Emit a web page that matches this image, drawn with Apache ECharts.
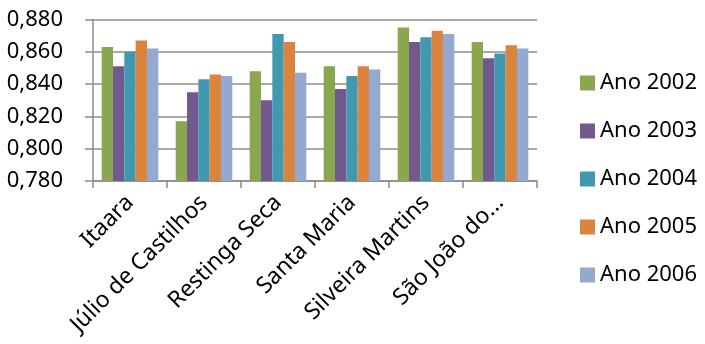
<!DOCTYPE html>
<html><head><meta charset="utf-8">
<script src="https://cdn.jsdelivr.net/npm/echarts@6/dist/echarts.min.js"></script>
<style>html,body{margin:0;padding:0;background:#fff}#c{width:705px;height:344px}</style>
</head><body><div id="c"></div>
<script>
const categories = ["Itaara","Júlio de Castilhos","Restinga Seca","Santa Maria","Silveira Martins","São João do..."];
const seriesNames = ["Ano 2002","Ano 2003","Ano 2004","Ano 2005","Ano 2006"];
const ano2002 = [0.863,0.817,0.848,0.851,0.875,0.866];
const ano2003 = [0.851,0.835,0.830,0.837,0.866,0.856];
const ano2004 = [0.860,0.843,0.871,0.845,0.869,0.859];
const ano2005 = [0.867,0.846,0.866,0.851,0.873,0.864];
const ano2006 = [0.862,0.845,0.847,0.849,0.871,0.862];
const colors = ["#8AA64E","#71588F","#4298AF","#DB843D","#93A9CF"];
const values = [ano2002,ano2003,ano2004,ano2005,ano2006];
const font = "Noto Sans";
const chart = echarts.init(document.getElementById('c'));
chart.setOption({
  animation:false,
  color:colors,
  grid:{left:93,right:168,top:19.5,bottom:163,containLabel:false},
  legend:{orient:'vertical',left:580,top:71,padding:0,itemWidth:15,itemHeight:15,itemGap:24,icon:'rect',
    textStyle:{fontFamily:font,fontSize:22,color:'#000',lineHeight:24},
    data:seriesNames},
  xAxis:{type:'category',data:categories,
    axisLine:{lineStyle:{color:'#8c8c8c',width:1.5}},
    axisTick:{show:true,length:7,alignWithLabel:false,lineStyle:{color:'#8c8c8c',width:1.5}},
    axisLabel:{rotate:45,interval:0,margin:18,fontFamily:font,fontSize:23,color:'#000'}},
  yAxis:{type:'value',min:0.78,max:0.88,interval:0.02,
    axisLine:{show:true,lineStyle:{color:'#8c8c8c',width:1.5}},
    axisTick:{show:true,length:8,lineStyle:{color:'#8c8c8c',width:1.5}},
    splitLine:{lineStyle:{color:'#8c8c8c',width:1.5}},
    axisLabel:{margin:30,fontFamily:font,fontSize:22,color:'#000',
      formatter:v=>v.toFixed(3).replace('.',',')}},
  series:seriesNames.map((n,i)=>({name:n,type:'bar',data:values[i],barGap:'0%',barCategoryGap:'23.5%'}))
});
</script></body></html>
